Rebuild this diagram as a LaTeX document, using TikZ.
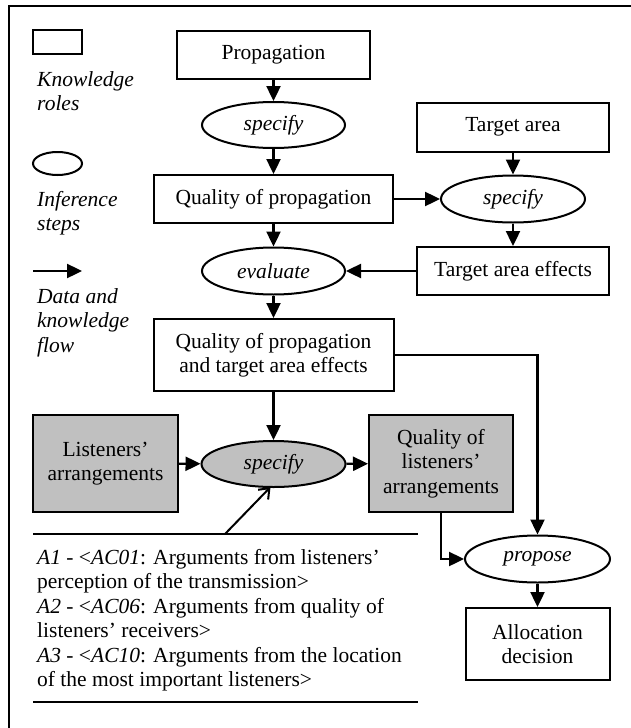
\documentclass[tikz,border=0pt]{standalone}
\usepackage{fontspec}
\setmainfont{Liberation Serif}
\usetikzlibrary{shapes.geometric,arrows.meta}
\definecolor{boxgray}{HTML}{C0C0C0}
\begin{document}
\begin{tikzpicture}[x=1pt,y=-1pt,
  font=\fontsize{21.5}{24.5}\selectfont,
  box/.style={draw, line width=2pt, rectangle, align=center, inner sep=0pt},
  graybox/.style={box, fill=boxgray},
  ell/.style={draw, line width=2pt, ellipse, inner sep=0pt, font=\fontsize{21.5}{24.5}\selectfont\itshape},
  grayell/.style={ell, fill=boxgray},
  arr/.style={line width=2.4pt, -{Triangle[length=15pt,width=14pt]}},
  legtext/.style={anchor=north west, align=left, inner sep=0pt, font=\fontsize{21.5}{24.5}\selectfont\itshape}
]
\useasboundingbox (0,0) rectangle (631,728);
% outer frame (cut off at right and bottom)
\draw[line width=2.6pt] (9,760) -- (9,6) -- (660,6);

% legend
\node[box, minimum width=49, minimum height=24] (lbox) at (57.5,42) {};
\node[legtext] (lboxt) at (37,71) {Knowledge\\roles};
\node[ell, minimum width=49, minimum height=23] (lell) at (57.5,163.5) {};
\node[legtext] (lellt) at (37,191) {Inference\\steps};
\coordinate (la1) at (33,271);
\coordinate (la2) at (82,271);
\draw[arr] (la1) -- (la2);
\node[legtext] (larrt) at (37,288) {Data and\\knowledge\\flow};

% main diagram
\node[box, minimum width=193, minimum height=48] (prop) at (273.5,55) {Propagation};
\node[ell, minimum width=143, minimum height=46] (sp1) at (273.5,125) {specify};
\node[box, minimum width=239, minimum height=48] (qp) at (273.5,199) {Quality of propagation};
\node[box, minimum width=192, minimum height=49] (ta) at (513,127) {Target area};
\node[ell, minimum width=144, minimum height=47] (sp2) at (513,199) {specify};
\node[box, minimum width=192, minimum height=48] (tae) at (513,271) {Target area effects};
\node[ell, minimum width=143, minimum height=47] (ev) at (273.5,271) {evaluate};
\node[box, minimum width=240, minimum height=72] (qpt) at (273.5,355) {Quality of propagation\\and target area effects};
\node[graybox, minimum width=145, minimum height=97] (lis) at (105.5,463.5) {Listeners’\\arrangements};
\node[grayell, minimum width=144, minimum height=46] (sp3) at (273.5,464) {specify};
\node[graybox, minimum width=144, minimum height=97] (qla) at (441,463.5) {Quality of\\listeners’\\arrangements};
\node[ell, minimum width=145, minimum height=47] (pro) at (537.5,559) {propose};
\node[box, minimum width=144, minimum height=72] (ad) at (537.5,644) {Allocation\\decision};

% flows
\draw[arr] (prop) -- (sp1);
\draw[arr] (sp1) -- (qp);
\draw[arr] (qp) -- (ev);
\draw[arr] (ev) -- (qpt);
\draw[arr] (ta) -- (sp2);
\draw[arr] (sp2) -- (tae);
\draw[arr] (qp) -- (sp2);
\draw[arr] (tae) -- (ev);
\draw[arr] (qpt) -- (sp3);
\draw[arr] (lis) -- (sp3);
\draw[arr] (sp3) -- (qla);
\draw[arr] (qpt.east) -| (pro.north);
\draw[arr] (qla.south) |- (pro.west);
\draw[arr] (pro) -- (ad);

% arguments
\coordinate (argl) at (33,534);
\coordinate (argr) at (418,534);
\coordinate (argbl) at (33,702);
\coordinate (argbr) at (418,702);
\coordinate (argfoot) at (225,534);
\draw[line width=2pt] (argl) -- (argr);
\draw[line width=2pt] (argbl) -- (argbr);
\draw[line width=2pt, -{Straight Barb[length=9pt,width=14pt]}] (argfoot) -- ([xshift=-3pt,yshift=1pt]sp3.south);
\node[anchor=north west, align=left, inner sep=0pt] (args) at (37,549)
{\textit{A1} - <\textit{AC01}: Arguments from listeners’\\
perception of the transmission>\\
\textit{A2} - <\textit{AC06}: Arguments from quality of\\
listeners’ receivers>\\
\textit{A3} - <\textit{AC10}: Arguments from the location\\
of the most important listeners>};
\end{tikzpicture}
\end{document}
